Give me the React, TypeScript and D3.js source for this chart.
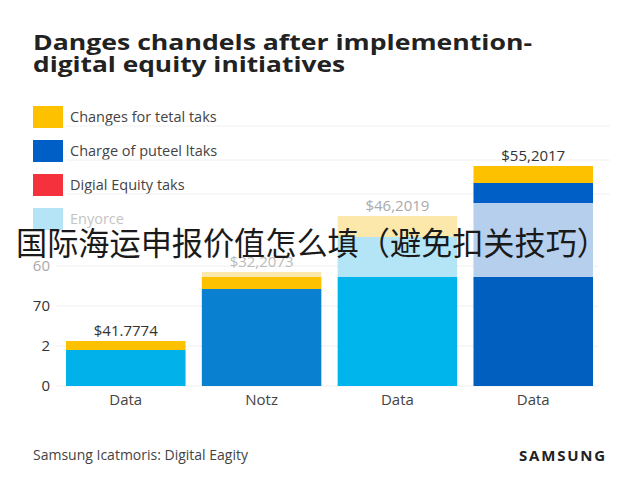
import * as d3 from "d3";
import { useEffect, useRef } from "react";

const categories = ["Data", "Notz", "Data", "Data"];
const baseValues = [9, 24.25, 27.25, 27.25];
const lightValues = [0, 0, 10, 18.5];
const blueValues = [0, 0, 0, 5];
const yellowValues = [2.25, 3, 0, 4.25];
const paleValues = [0, 1.25, 5.25, 0];
const valueLabels = ["$41.7774", "$32,2073", "$46,2019", "$55,2017"];
const yTickValues = [0, 10, 20, 30];
const yTickLabels = ["0", "2", "70", "60"];
const legendLabels = [
  "Changes for tetal taks",
  "Charge of puteel ltaks",
  "Digial Equity taks",
  "Enyorce",
];

const keys = ["base", "light", "blue", "yellow", "pale"];
const baseColors = ["#00b1ea", "#0a80d0", "#00b4ec", "#005fbf"];
const lightColors = ["#b3e6f8", "#b3e6f8", "#b3e5f7", "#b6cfec"];
const legendColors = ["#fdc100", "#005fc6", "#f5313e", "#b6e4f7"];
const labelColors = ["#333", "#bbb", "#aaa", "#333"];

const FONT = "'Open Sans', 'DejaVu Sans', sans-serif";

export default function App() {
  const ref = useRef<SVGSVGElement | null>(null);

  useEffect(() => {
    if (!ref.current) return;
    const svg = d3.select(ref.current);
    svg.selectAll("*").remove();

    svg.append("rect").attr("width", 640).attr("height", 480).attr("fill", "#fff");

    // title
    const title = svg
      .append("g")
      .attr("font-family", FONT)
      .attr("font-weight", 700)
      .attr("font-size", 21)
      .attr("fill", "#222");
    title.append("text").attr("x", 33).attr("y", 50).attr("textLength", 499)
      .attr("lengthAdjust", "spacingAndGlyphs").text("Danges chandels after implemention-");
    title.append("text").attr("x", 33).attr("y", 72).attr("textLength", 312)
      .attr("lengthAdjust", "spacingAndGlyphs").text("digital equity initiatives");

    // legend
    const legend = svg.append("g").attr("font-family", FONT).attr("font-size", 14.5);
    legendLabels.forEach((label, i) => {
      const y0 = 106 + i * 34;
      legend.append("rect").attr("x", 33).attr("y", y0).attr("width", 30).attr("height", 22)
        .attr("fill", legendColors[i]);
      legend.append("text").attr("x", 70).attr("y", y0 + 16)
        .attr("fill", i === 3 ? "#c4c4c4" : "#444").text(label);
      if (i < 3) {
        legend.append("line").attr("x1", 66).attr("x2", 610)
          .attr("y1", y0 + 20).attr("y2", y0 + 20)
          .attr("stroke", "#f0f0f0").attr("stroke-width", 1);
      }
    });

    const x = d3
      .scaleBand<number>()
      .domain(categories.map((_, i) => i))
      .range([66, 593])
      .paddingInner(0.12);

    const y = d3.scaleLinear().domain([0, 55]).range([386, 166]);

    // grid + y labels
    const grid = svg.append("g").attr("font-family", FONT).attr("font-size", 15);
    yTickValues.forEach((v, i) => {
      grid.append("line").attr("x1", 56).attr("x2", 598)
        .attr("y1", y(v)).attr("y2", y(v))
        .attr("stroke", "#eeeeee").attr("stroke-width", 1);
      grid.append("text").attr("x", 50).attr("y", y(v) + 5).attr("text-anchor", "end")
        .attr("fill", i === 3 ? "#aaa" : "#333").text(yTickLabels[i]);
    });

    // stacked bars
    const rows = categories.map((_, i) => ({
      idx: i,
      base: baseValues[i],
      light: lightValues[i],
      blue: blueValues[i],
      yellow: yellowValues[i],
      pale: paleValues[i],
    }));
    const series = d3.stack<any>().keys(keys)(rows);
    const colorFor = (key: string, i: number) =>
      key === "base" ? baseColors[i]
        : key === "light" ? lightColors[i]
        : key === "blue" ? "#005fc6"
        : key === "yellow" ? "#fdc100"
        : "#fde8ac";

    series.forEach((s) => {
      svg.append("g")
        .selectAll("rect")
        .data(s)
        .enter()
        .append("rect")
        .attr("x", (d) => x(d.data.idx)!)
        .attr("y", (d) => y(d[1]))
        .attr("width", x.bandwidth())
        .attr("height", (d) => Math.max(0, y(d[0]) - y(d[1])))
        .attr("fill", (d) => colorFor(s.key, d.data.idx));
    });

    // value labels
    const totals = rows.map((r) => r.base + r.light + r.blue + r.yellow + r.pale);
    svg.append("g")
      .attr("font-family", FONT)
      .attr("font-size", 15)
      .attr("font-weight", 500)
      .attr("text-anchor", "middle")
      .selectAll("text")
      .data(rows)
      .enter()
      .append("text")
      .attr("x", (d) => x(d.idx)! + x.bandwidth() / 2)
      .attr("y", (d) => y(totals[d.idx]) - 5)
      .attr("fill", (d) => labelColors[d.idx])
      .text((d) => valueLabels[d.idx]);

    // x labels
    svg.append("g")
      .attr("font-family", FONT)
      .attr("font-size", 15)
      .attr("fill", "#444")
      .attr("text-anchor", "middle")
      .selectAll("text")
      .data(rows)
      .enter()
      .append("text")
      .attr("x", (d) => x(d.idx)! + x.bandwidth() / 2)
      .attr("y", 405)
      .text((d) => categories[d.idx]);

    // footer
    svg.append("text").attr("x", 33).attr("y", 460).attr("font-family", FONT)
      .attr("font-size", 14).attr("fill", "#444").text("Samsung Icatmoris: Digital Eagity");
    svg.append("text").attr("x", 607).attr("y", 461).attr("font-family", FONT)
      .attr("font-size", 15).attr("font-weight", 700).attr("letter-spacing", 1.8)
      .attr("text-anchor", "end").attr("fill", "#222").text("SAMSUNG");

    // overlay caption
    svg.append("text").attr("x", 16).attr("y", 255)
      .attr("font-family", "'Noto Sans CJK SC', sans-serif")
      .attr("font-size", 32).attr("font-weight", 400).attr("fill", "#1a1a1a")
      .attr("textLength", 592).attr("lengthAdjust", "spacingAndGlyphs")
      .text("国际海运申报价值怎么填（避免扣关技巧）");
  }, []);

  return (
    <svg
      ref={ref}
      width={640}
      height={480}
      style={{ position: "absolute", left: 0, top: 0 }}
    />
  );
}
